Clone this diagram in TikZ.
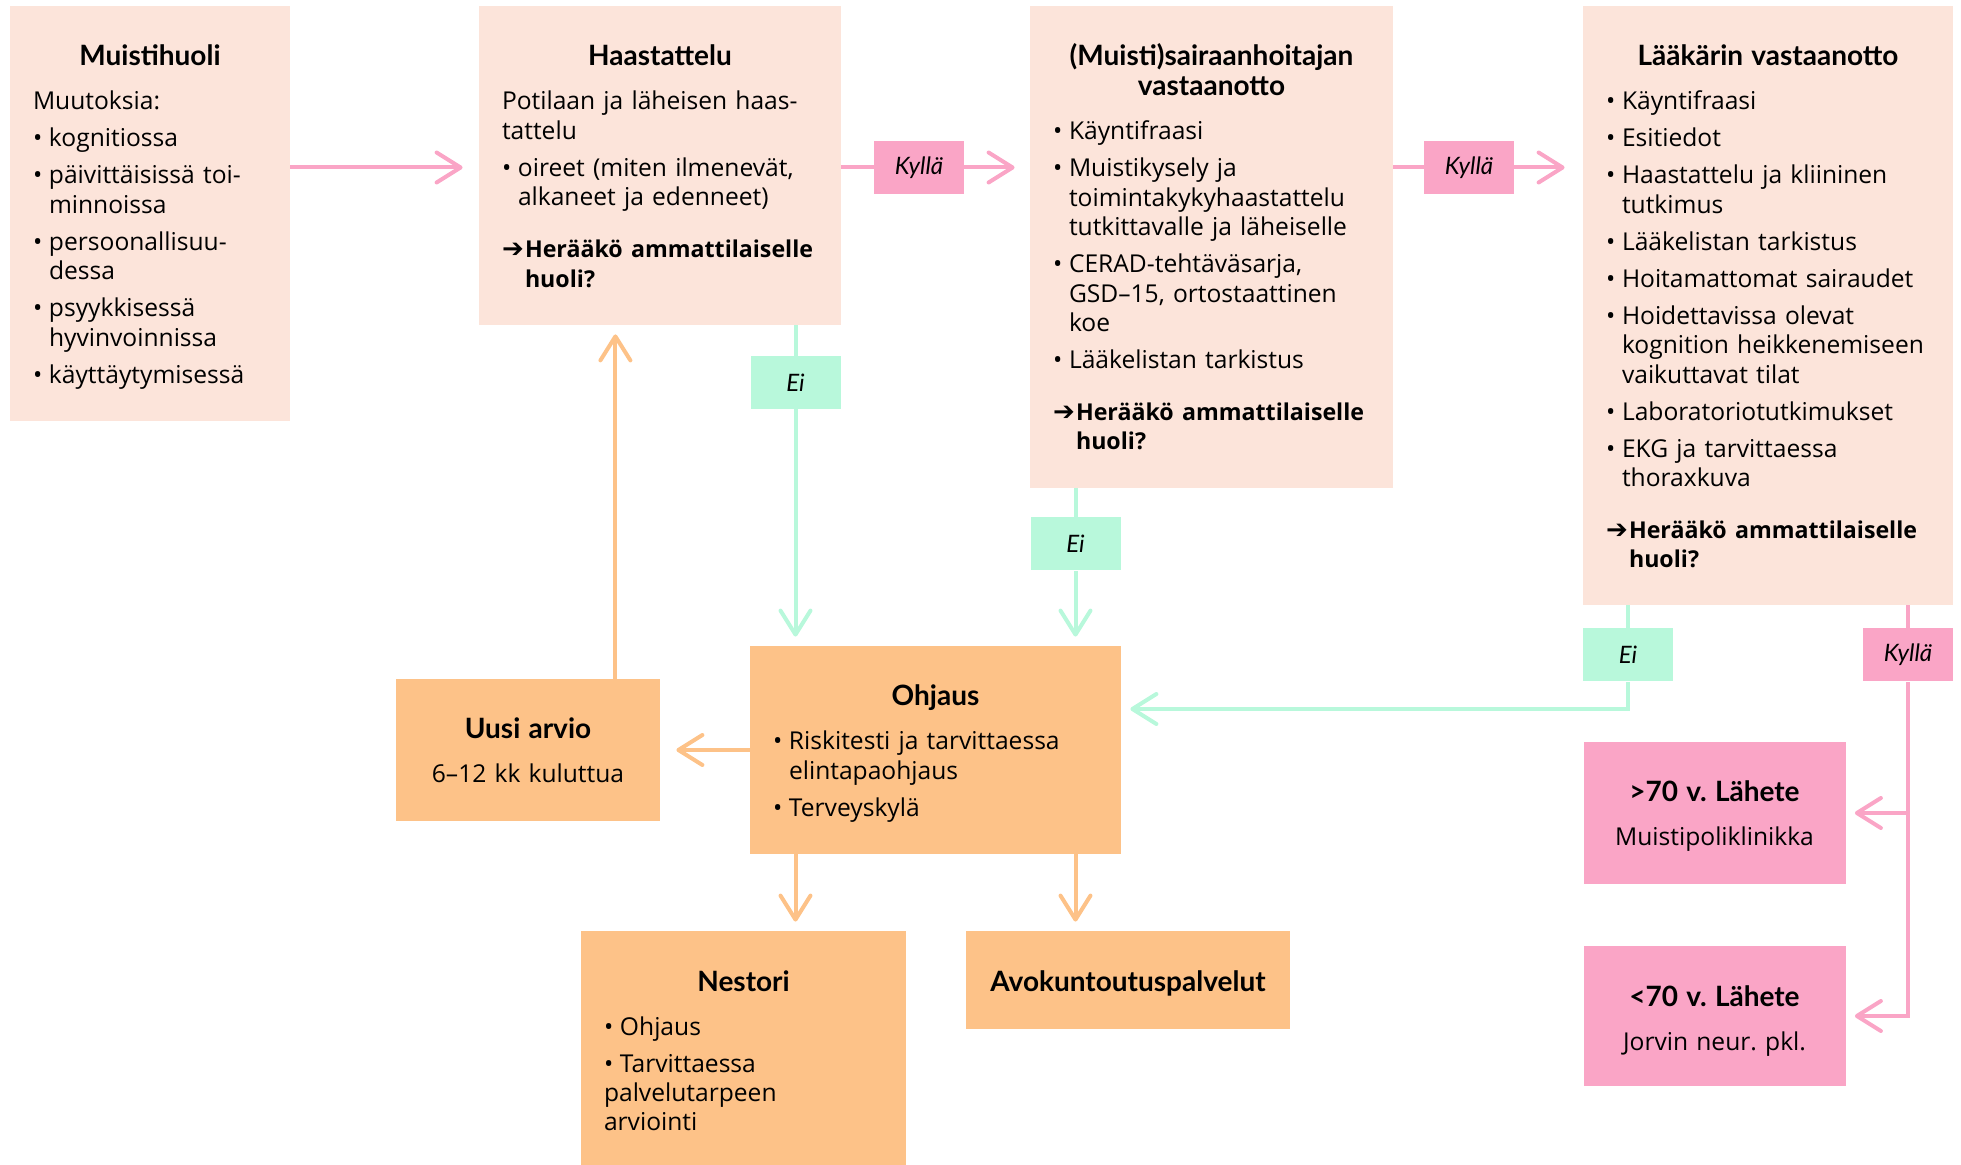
\documentclass[tikz,border=0pt]{standalone}
\usepackage{fontspec}
\setmainfont{Open Sans}
\newfontfamily\latofont{Lato}
\newfontfamily\arrowfont{DejaVu Sans}
\usetikzlibrary{arrows.meta,positioning,calc}
\definecolor{peach}{HTML}{FCE4DA}
\definecolor{rose}{HTML}{FAA5C6}
\definecolor{mint}{HTML}{B8F8DB}
\definecolor{apricot}{HTML}{FDC288}
\newcommand{\bodyfont}{\fontsize{12.3}{14.7}\selectfont}
\newcommand{\ttlfont}{\latofont\bfseries\fontsize{14}{15}\selectfont}
\newcommand{\boxtitle}[1]{{\centering\ttlfont\parskip=0pt #1\par}\vspace{3.5pt}}
\newcommand{\itm}[1]{\par\hangindent=8pt\hangafter=1\noindent\makebox[8pt][l]{\textbullet}#1}
\newcommand{\huoli}{\par\vspace{7.5pt}\noindent\makebox[11.5pt][l]{\arrowfont\fontsize{13}{13}\selectfont ➔}%
  \parbox[t]{\dimexpr\hsize-11.5pt}{\bfseries\fontsize{11.6}{14.7}\selectfont\mbox{Herääkö ammattilaiselle}\\huoli?}}

\begin{document}
\begin{tikzpicture}[x=0.5pt, y=-0.5pt,
  card/.style={fill=peach, inner xsep=11.5pt, inner ysep=0pt, text height=30pt, align=left, font=\bodyfont,
    execute at begin node={\setlength{\parskip}{3.8pt}}},
  care/.style={card, fill=apricot},
  refer/.style={card, fill=rose, align=center},
  tag/.style={minimum width=45pt, minimum height=26.5pt, inner sep=0pt,
    font=\latofont\itshape\fontsize{12}{14}\selectfont},
  yestag/.style={tag, fill=rose},
  notag/.style={tag, fill=mint},
  wire/.style={line width=2pt},
  link/.style={wire, -{Straight Barb[length=12pt, width=15pt, round]}, shorten >=4.5pt}]
  \useasboundingbox (0,0) rectangle (1961,1165);

  % assessment steps
  \node[card, text width=117pt, text depth=177.5pt] (muisti) at (150,213.5) {\boxtitle{Muistihuoli}
    Muutoksia:
    \itm{kognitiossa}
    \itm{päivittäisissä toi-\newline minnoissa}
    \itm{persoonallisuu-\newline dessa}
    \itm{psyykkisessä\newline hyvinvoinnissa}
    \itm{käyttäytymisessä}};
  \node[card, text width=158pt, text depth=129.5pt] (haast) at (660,165.5) {\boxtitle{Haastattelu}
    Potilaan ja läheisen haas-\newline tattelu
    \itm{oireet (miten ilmenevät,\newline alkaneet ja edenneet)}
    \huoli};
  \node[card, text width=158.5pt, text depth=211pt] (sair) at (1211.5,247) {\boxtitle{(Muisti)sairaanhoitajan\\vastaanotto}
    \itm{Käyntifraasi}
    \itm{Muistikysely ja\newline toimintakykyhaastattelu\newline tutkittavalle~ja~läheiselle}
    \itm{CERAD-tehtäväsarja,\newline GSD–15, ortostaattinen\newline koe}
    \itm{Lääkelistan tarkistus}
    \huoli};
  \node[card, text width=162pt, text depth=269.5pt] (laak) at (1768,305.5) {\boxtitle{Lääkärin vastaanotto}
    \itm{Käyntifraasi}
    \itm{Esitiedot}
    \itm{Haastattelu ja kliininen\newline tutkimus}
    \itm{Lääkelistan tarkistus}
    \itm{Hoitamattomat sairaudet}
    \itm{Hoidettavissa olevat\newline kognition~heikkenemiseen\newline vaikuttavat tilat}
    \itm{Laboratoriotutkimukset}
    \itm{EKG ja tarvittaessa\newline thoraxkuva}
    \huoli};

  % decisions
  \node[yestag] (k1) at (919,167.5) {Kyllä};
  \node[yestag] (k2) at (1469,167.5) {Kyllä};
  \node[notag] (ei1) at (795.5,382.5) {Ei};
  \node[notag] (ei2) at (1075.5,544) {Ei};
  \node[notag] (ei3) at (1628,655) {Ei};
  \node[yestag] (k3) at (1908,655) {Kyllä};

  % follow-up
  \node[care, text width=162.5pt, text depth=74pt] (ohjaus) at (935.5,750) {\boxtitle{Ohjaus}
    \itm{Riskitesti ja tarvittaessa\newline elintapaohjaus}
    \itm{Terveyskylä}};
  \node[care, align=center, text width=109pt, text depth=41pt] (uusi) at (528,750) {\boxtitle{Uusi arvio}
    6–12 kk kuluttua};
  \node[care, text width=139.5pt, text depth=87pt] (nestori) at (743.5,1048) {\boxtitle{Nestori}
    \itm{Ohjaus}
    \itm{Tarvittaessa\newline palvelutarpeen\newline arviointi}};
  \node[care, align=center, text width=139pt, text depth=19pt] (avo) at (1128,980) {{\ttlfont Avokuntoutuspalvelut}};
  \node[refer, text width=108pt, text depth=41pt] (lah1) at (1714.5,813) {\boxtitle{>70 v.\ Lähete}
    Muistipoliklinikka};
  \node[refer, text width=108pt, text depth=40pt] (lah2) at (1714.5,1016) {\boxtitle{<70 v.\ Lähete}
    Jorvin neur.\ pkl.};

  \coordinate (eiturn) at (1628,709);
  \coordinate (back) at ([xshift=-22.5pt]uusi.north east);

  % yes path along the top
  \draw[link, rose, shorten >=8pt] (muisti.east |- k1) -- (haast.west |- k1);
  \draw[wire, rose] (haast.east |- k1) -- (k1.west);
  \draw[link, rose, shorten >=7.5pt] (k1.east) -- (sair.west |- k1);
  \draw[wire, rose] (sair.east |- k2) -- (k2.west);
  \draw[link, rose, shorten >=9pt] (k2.east) -- (laak.west |- k2);

  % no paths
  \draw[wire, mint] (haast.south -| ei1) -- (ei1.north);
  \draw[link, mint] (ei1.south) -- (ohjaus.north -| ei1);
  \draw[wire, mint] (sair.south -| ei2) -- (ei2.north);
  \draw[link, mint] (ei2.south) -- (ohjaus.north -| ei2);
  \draw[wire, mint] (laak.south -| ei3) -- (ei3.north);
  \draw[link, mint] (ei3.south) -- (eiturn) -- (ohjaus.east |- eiturn);

  % referrals
  \draw[wire, rose] (laak.south -| k3) -- (k3.north);
  \draw[link, rose] (k3.south) |- (lah2.east);
  \draw[link, rose] (k3 |- lah1) -- (lah1.east);

  % guidance
  \draw[link, apricot, shorten >=8pt] (ohjaus.west) -- (uusi.east);
  \draw[link, apricot] (back) -- (back |- haast.south);
  \draw[link, apricot] (ohjaus.south -| ei1) -- (nestori.north -| ei1);
  \draw[link, apricot] (ohjaus.south -| ei2) -- (avo.north -| ei2);
\end{tikzpicture}
\end{document}
